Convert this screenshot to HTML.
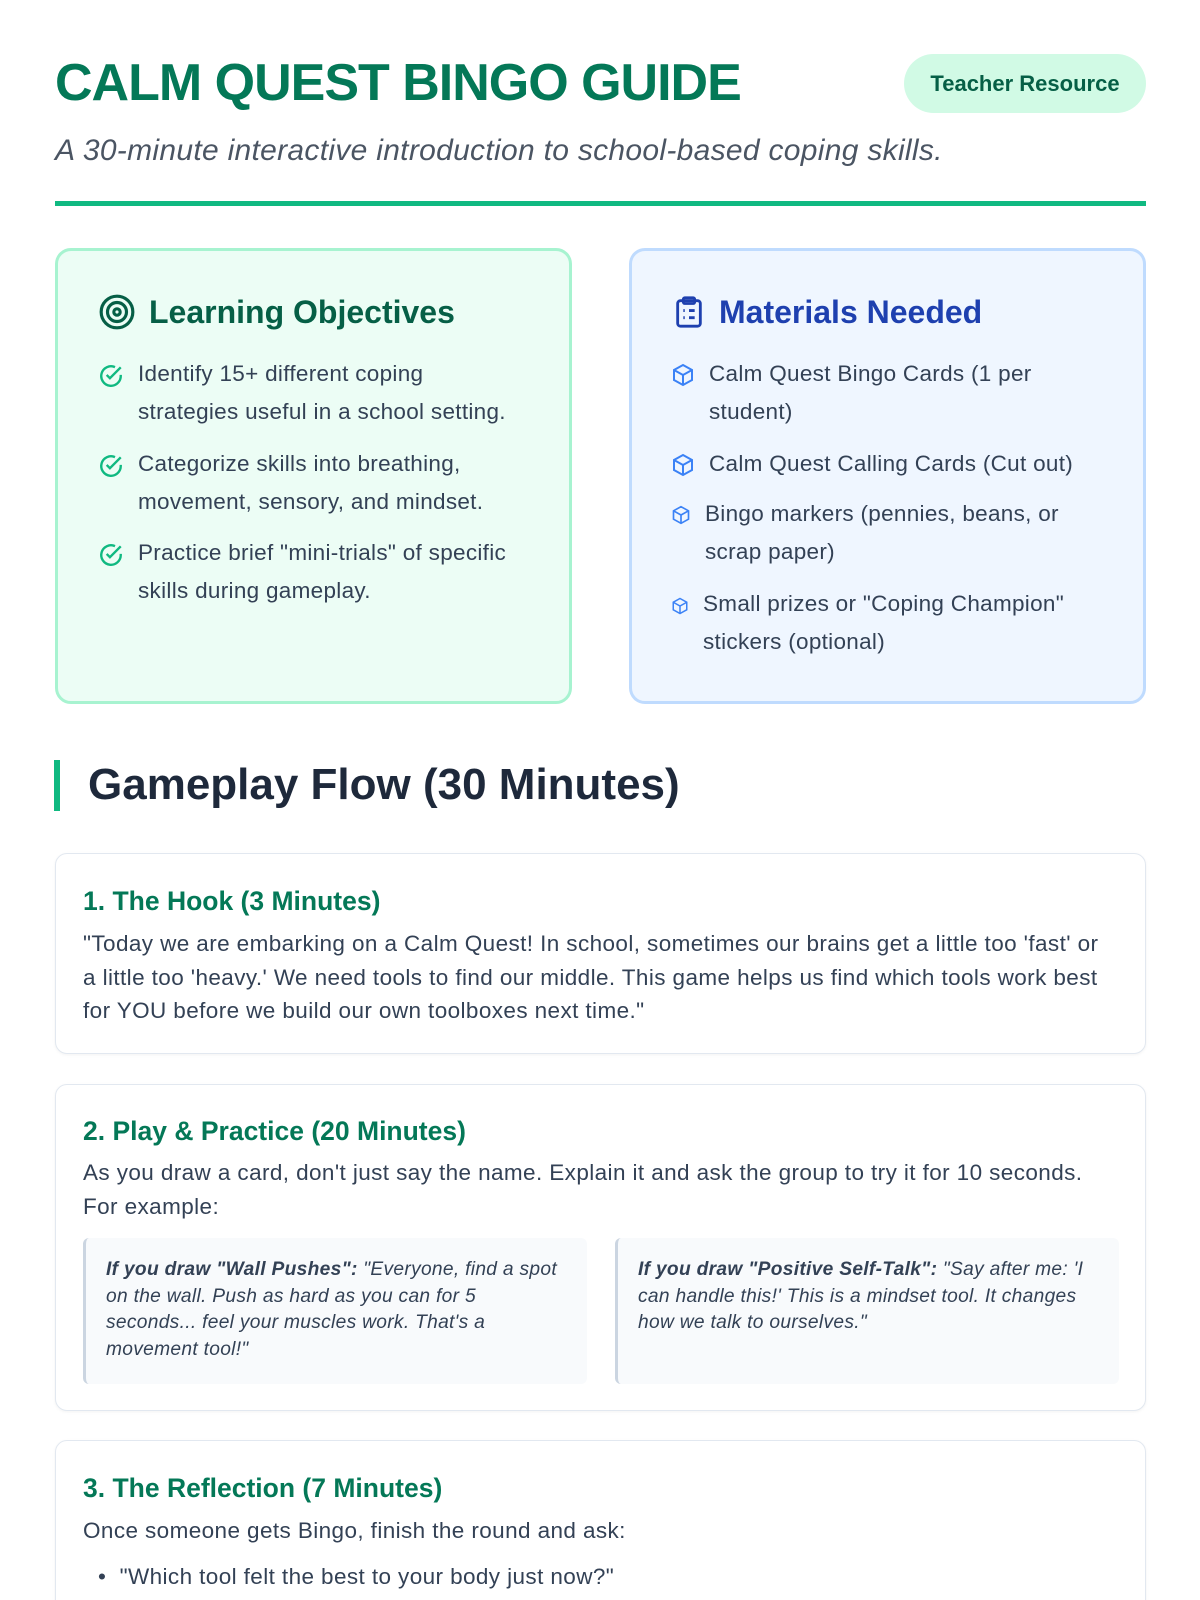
<!DOCTYPE html>
<html style="width:1200px;height:1600px;overflow:hidden"><head><meta charset="utf-8"><style>
*{box-sizing:border-box;margin:0;padding:0}
html,body{width:1200px;height:1600px;overflow:hidden;background:#fff}
#w{position:relative;width:1200px;height:1600px;overflow:hidden;font-family:"Liberation Sans",sans-serif;color:#334155}
.abs{position:absolute}
h1{position:absolute;left:55px;top:53px;font-size:52px;font-weight:bold;color:#047857;letter-spacing:-1px;white-space:nowrap}
.badge{left:904px;top:54px;width:242px;height:59px;border-radius:30px;background:#d1fae5;color:#065f46;font-weight:bold;font-size:22px;display:flex;align-items:center;justify-content:center}
.sub{left:55px;top:134px;font-size:30px;font-style:italic;color:#4b5563;white-space:nowrap;letter-spacing:.3px}
.div{left:55px;top:201px;width:1091px;height:5px;background:#10b981}
.box{top:248px;height:456px;width:517px;border-radius:16px;border:3px solid}
.g{left:55px;background:#ecfdf5;border-color:#a7f3d0}
.b{left:629px;background:#eff6ff;border-color:#bfdbfe}
.bh{position:absolute;left:40px;top:42px;font-size:32px;font-weight:bold;display:flex;align-items:center;gap:13px;white-space:nowrap}
.li{position:absolute;left:40px;font-size:22.5px;letter-spacing:.3px;line-height:38px;color:#334155;display:flex;gap:14px;white-space:nowrap}
.li svg{flex:none;margin-top:8px}
.gh{left:88px;top:760px;font-size:44px;font-weight:bold;color:#1e293b;white-space:nowrap}
.bar{left:54px;top:760px;width:6px;height:51px;background:#10b981}
.card{left:55px;width:1091px;border:1.5px solid #e2e8f0;border-radius:12px;background:#fff;box-shadow:0 1px 3px rgba(0,0,0,.05)}
.ch{position:absolute;left:27px;font-size:26.5px;font-weight:bold;color:#047857;white-space:nowrap}
.ct{position:absolute;left:27px;font-size:22.5px;letter-spacing:.4px;line-height:33.5px;color:#334155;white-space:nowrap}
.q{position:absolute;top:153px;height:146px;width:504px;background:#f8fafc;border-left:3px solid #cbd5e1;border-radius:6px;padding:19px 20px;font-size:19.2px;letter-spacing:.3px;line-height:26.5px;font-style:italic;color:#334155;white-space:nowrap}
</style></head><body><div id="w">
<h1>CALM QUEST BINGO GUIDE</h1>
<div class="abs badge">Teacher Resource</div>
<div class="abs sub">A 30-minute interactive introduction to school-based coping skills.</div>
<div class="abs div"></div>

<div class="abs box g">
<div class="bh" style="color:#065f46"><svg width="38" height="38" viewBox="0 0 24 24" fill="none" stroke="#065f46" stroke-width="2"><circle cx="12" cy="12" r="10"/><circle cx="12" cy="12" r="6"/><circle cx="12" cy="12" r="2"/></svg>Learning Objectives</div>
<div class="li" style="top:104px"><svg width="26" height="26" viewBox="0 0 24 24" fill="none" stroke="#10b981" stroke-width="2.2"><path d="M21 11v1a9 9 0 1 1-5.3-8.2"/><path d="M8 11l3 3 10-10"/></svg><span>Identify 15+ different coping<br>strategies useful in a school setting.</span></div>
<div class="li" style="top:194px"><svg width="26" height="26" viewBox="0 0 24 24" fill="none" stroke="#10b981" stroke-width="2.2"><path d="M21 11v1a9 9 0 1 1-5.3-8.2"/><path d="M8 11l3 3 10-10"/></svg><span>Categorize skills into breathing,<br>movement, sensory, and mindset.</span></div>
<div class="li" style="top:283px"><svg width="26" height="26" viewBox="0 0 24 24" fill="none" stroke="#10b981" stroke-width="2.2"><path d="M21 11v1a9 9 0 1 1-5.3-8.2"/><path d="M8 11l3 3 10-10"/></svg><span>Practice brief "mini-trials" of specific<br>skills during gameplay.</span></div>
</div>

<div class="abs box b">
<div class="bh" style="color:#1e40af"><svg width="34" height="38" viewBox="0 0 24 24" fill="none" stroke="#1e40af" stroke-width="2"><rect x="4" y="4" width="16" height="18" rx="2"/><rect x="8" y="2" width="8" height="4" rx="1"/><path d="M8 11h1M12 11h4M8 16h1M12 16h4"/></svg>Materials Needed</div>
<div class="li" style="top:104px;left:39px"><svg width="24" height="24" viewBox="0 0 24 24" fill="none" stroke="#3b82f6" stroke-width="2"><path d="M12 2l9 5v10l-9 5-9-5V7z"/><path d="M3 7l9 5 9-5M12 12v10"/></svg><span>Calm Quest Bingo Cards (1 per<br>student)</span></div>
<div class="li" style="top:194px;left:39px"><svg width="24" height="24" viewBox="0 0 24 24" fill="none" stroke="#3b82f6" stroke-width="2"><path d="M12 2l9 5v10l-9 5-9-5V7z"/><path d="M3 7l9 5 9-5M12 12v10"/></svg><span>Calm Quest Calling Cards (Cut out)</span></div>
<div class="li" style="top:244px;left:39px"><svg width="20" height="20" viewBox="0 0 24 24" fill="none" stroke="#3b82f6" stroke-width="2" style="margin-top:10px"><path d="M12 2l9 5v10l-9 5-9-5V7z"/><path d="M3 7l9 5 9-5M12 12v10"/></svg><span>Bingo markers (pennies, beans, or<br>scrap paper)</span></div>
<div class="li" style="top:334px;left:39px"><svg width="18" height="18" viewBox="0 0 24 24" fill="none" stroke="#3b82f6" stroke-width="2" style="margin-top:12px"><path d="M12 2l9 5v10l-9 5-9-5V7z"/><path d="M3 7l9 5 9-5M12 12v10"/></svg><span>Small prizes or "Coping Champion"<br>stickers (optional)</span></div>
</div>

<div class="abs bar"></div>
<div class="abs gh">Gameplay Flow (30 Minutes)</div>

<div class="abs card" style="top:853px;height:201px">
<div class="ch" style="top:32px">1. The Hook (3 Minutes)</div>
<div class="ct" style="top:73px">"Today we are embarking on a Calm Quest! In school, sometimes our brains get a little too 'fast' or<br>a little too 'heavy.' We need tools to find our middle. This game helps us find which tools work best<br>for YOU before we build our own toolboxes next time."</div>
</div>

<div class="abs card" style="top:1084px;height:327px">
<div class="ch" style="top:31px">2. Play &amp; Practice (20 Minutes)</div>
<div class="ct" style="top:71px">As you draw a card, don't just say the name. Explain it and ask the group to try it for 10 seconds.<br>For example:</div>
<div class="q" style="left:27px"><b>If you draw "Wall Pushes":</b> "Everyone, find a spot<br>on the wall. Push as hard as you can for 5<br>seconds... feel your muscles work. That's a<br>movement tool!"</div>
<div class="q" style="left:559px"><b>If you draw "Positive Self-Talk":</b> "Say after me: 'I<br>can handle this!' This is a mindset tool. It changes<br>how we talk to ourselves."</div>
</div>

<div class="abs card" style="top:1440px;height:200px">
<div class="ch" style="top:32px">3. The Reflection (7 Minutes)</div>
<div class="ct" style="top:73px">Once someone gets Bingo, finish the round and ask:</div>
<div class="ct" style="top:119px;left:42px">•&nbsp;&nbsp;"Which tool felt the best to your body just now?"</div>
</div>
</div></body></html>
